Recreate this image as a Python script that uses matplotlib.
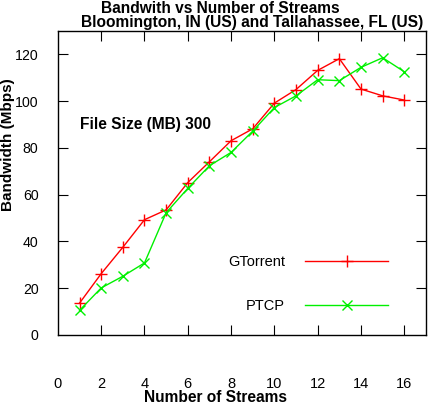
import matplotlib
matplotlib.use("Agg")
import matplotlib.pyplot as plt

streams = [1, 2, 3, 4, 5, 6, 7, 8, 9, 10, 11, 12, 13, 14, 15, 16]
gtorrent = [13.6, 26.2, 37.5, 49.3, 53.5, 65.2, 74.1, 83.1, 88.2, 99.2, 105.0, 113.2, 118.2, 105.2, 102.3, 100.5]
ptcp = [10.5, 20.1, 25.1, 30.8, 52.3, 62.7, 72.4, 78.1, 87.2, 97.3, 102.3, 109.2, 108.8, 114.5, 118.6, 112.6]
xticks = [0, 2, 4, 6, 8, 10, 12, 14, 16]
yticks = [0, 20, 40, 60, 80, 100, 120]

plt.rcParams['font.family'] = ['Liberation Sans', 'DejaVu Sans']

fig = plt.figure(figsize=(4.32, 4.04), dpi=100)
ax = fig.add_axes([0.134, 0.171, 0.852, 0.752])

ax.plot(streams, gtorrent, color='#ff0000', lw=1.0, marker='+', ms=8, mew=1.0, label='GTorrent')
ax.plot(streams, ptcp, color='#00f000', lw=1.0, marker='x', ms=7, mew=1.0, label='PTCP')

ax.set_xlim(0, 17)
ax.set_ylim(0, 130)
ax.set_xticks(xticks)
ax.set_yticks(yticks)
ax.tick_params(axis='x', direction='in', length=7, top=True, pad=30, labelsize=10.5)
ax.tick_params(axis='y', direction='in', length=7, right=True, pad=14, labelsize=10.2)
for t in ax.xaxis.get_major_ticks()[:1]:
    t.tick1line.set_visible(False)
    t.tick2line.set_visible(False)
for t in ax.yaxis.get_major_ticks()[:1]:
    t.tick1line.set_visible(False)
    t.tick2line.set_visible(False)
for s in ax.spines.values():
    s.set_linewidth(1.0)

fig.text(0.5, 0.004, 'Number of Streams', ha='center', va='baseline', fontsize=11.2, fontweight='bold')
fig.text(0.0185, 0.641, 'Bandwidth (Mbps)', ha='center', va='center', rotation=90, fontsize=11.0, fontweight='bold')

fig.text(0.509, 0.969, 'Bandwith vs Number of Streams', ha='center', va='baseline', fontsize=11.2, fontweight='bold')
fig.text(0.584, 0.933, 'Bloomington, IN (US) and Tallahassee, FL (US)', ha='center', va='baseline', fontsize=11.2, fontweight='bold')

ax.text(0.06, 0.694, 'File Size (MB) 300', transform=ax.transAxes, fontsize=11.2, fontweight='bold', va='center')

ax.legend(loc='lower right', bbox_to_anchor=(0.913, 0.053), borderaxespad=0, markerfirst=False, frameon=False,
          handlelength=5.7, labelspacing=2.07, fontsize=10.5, handletextpad=1.37)

fig.savefig('out.png', dpi=100)
